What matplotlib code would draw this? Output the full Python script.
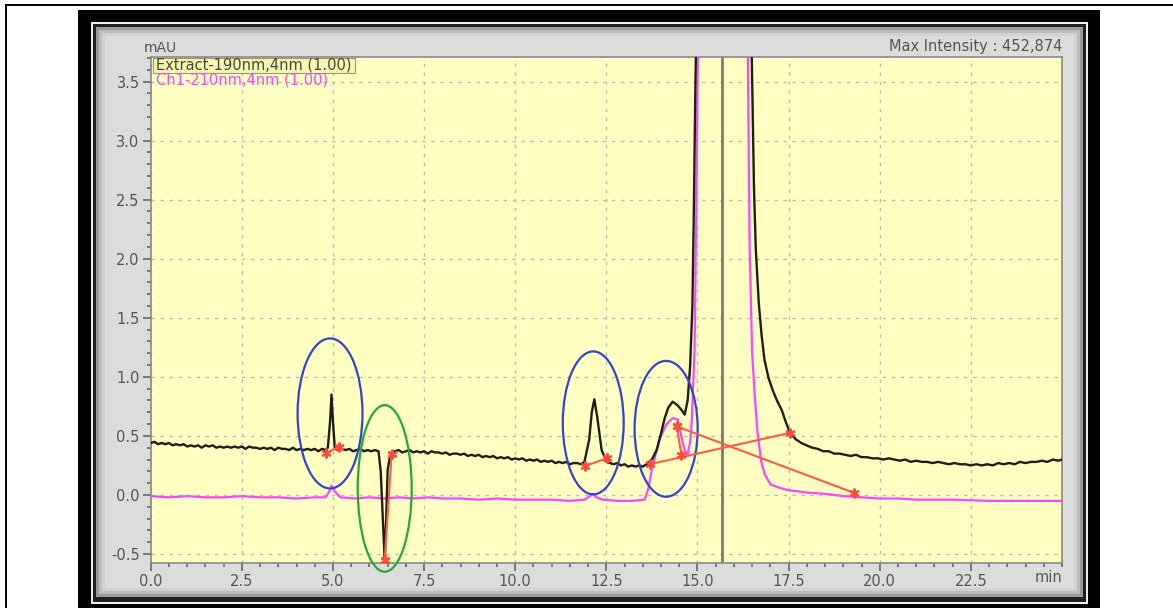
import matplotlib.pyplot as plt
from matplotlib.patches import Rectangle, Ellipse
from matplotlib.ticker import MultipleLocator

# Extract-190nm trace (min, mAU)
black_t = [0.0, 0.1, 0.2, 0.3, 0.4, 0.5, 0.6, 0.7, 0.8, 0.9, 1.0, 1.1, 1.2, 1.3, 1.4, 1.5, 1.6, 1.7,
           1.8, 1.9, 2.0, 2.1, 2.2, 2.3, 2.4, 2.5, 2.6, 2.7, 2.8, 2.9, 3.0, 3.1, 3.2, 3.3, 3.4, 3.5,
           3.6, 3.7, 3.8, 3.9, 4.0, 4.1, 4.2, 4.3, 4.4, 4.5, 4.6, 4.7, 4.8,
           4.86, 4.92, 4.96, 5.0, 5.05,
           5.15, 5.25, 5.35, 5.45, 5.55, 5.65, 5.75, 5.85, 5.95, 6.05, 6.15, 6.25,
           6.31, 6.37, 6.42, 6.46, 6.5, 6.56, 6.62,
           6.7, 6.8, 6.9, 7.0, 7.1, 7.2, 7.3, 7.4, 7.5, 7.6, 7.7, 7.8, 7.9, 8.0, 8.1, 8.2, 8.3,
           8.4, 8.5, 8.6, 8.7, 8.8, 8.9, 9.0, 9.1, 9.2, 9.3, 9.4, 9.5, 9.6, 9.7, 9.8, 9.9, 10.0,
           10.1, 10.2, 10.3, 10.4, 10.5, 10.6, 10.7, 10.8, 10.9, 11.0, 11.1, 11.2, 11.3, 11.4,
           11.5, 11.6, 11.7, 11.8, 11.9,
           12.03, 12.1, 12.17, 12.25, 12.37, 12.51,
           12.6, 12.7, 12.8, 12.9, 13.0, 13.1, 13.2, 13.3, 13.4, 13.5, 13.6,
           13.75, 13.88, 14.0, 14.1, 14.2, 14.32, 14.45, 14.56, 14.65, 14.73, 14.8, 14.86, 14.9,
           14.94, 14.98, 15.1, 16.3, 16.4, 16.49, 16.55, 16.6, 16.68, 16.76, 16.84, 16.95, 17.06,
           17.18, 17.31, 17.42, 17.53,
           17.7, 17.85, 17.99, 18.15, 18.3, 18.45, 18.6, 18.75, 18.9, 19.05, 19.2, 19.35, 19.5,
           19.65, 19.8, 19.95, 20.1, 20.25, 20.4, 20.55, 20.7, 20.85, 21.0, 21.15, 21.3, 21.45,
           21.6, 21.75, 21.9, 22.05, 22.2, 22.35, 22.5, 22.65, 22.8, 22.95, 23.1, 23.25, 23.4,
           23.55, 23.7, 23.85, 24.0, 24.15, 24.3, 24.45, 24.6, 24.75, 24.9, 25.0]
black_v = [0.44, 0.45, 0.43, 0.44, 0.43, 0.44, 0.42, 0.43, 0.42, 0.43, 0.41, 0.42, 0.41, 0.42, 0.40, 0.42, 0.41, 0.42,
           0.40, 0.41, 0.40, 0.41, 0.40, 0.41, 0.40, 0.41, 0.39, 0.41, 0.40, 0.40, 0.39, 0.40, 0.39, 0.40, 0.38, 0.40,
           0.39, 0.39, 0.38, 0.40, 0.38, 0.39, 0.38, 0.39, 0.38, 0.39, 0.37, 0.39, 0.38,
           0.40, 0.62, 0.85, 0.62, 0.40,
           0.38, 0.39, 0.38, 0.39, 0.37, 0.38, 0.39, 0.37, 0.38, 0.37, 0.38, 0.37,
           0.20, -0.21, -0.56, -0.20, 0.21, 0.32, 0.36,
           0.37, 0.38, 0.36, 0.37, 0.38, 0.36, 0.37, 0.36, 0.37, 0.35, 0.37, 0.36, 0.36, 0.35, 0.36, 0.34, 0.35,
           0.35, 0.34, 0.35, 0.33, 0.34, 0.33, 0.34, 0.32, 0.33, 0.32, 0.33, 0.31, 0.32, 0.31, 0.32, 0.30, 0.31,
           0.30, 0.31, 0.29, 0.30, 0.29, 0.30, 0.28, 0.29, 0.28, 0.29, 0.27, 0.28, 0.27, 0.28,
           0.26, 0.27, 0.27, 0.26, 0.28,
           0.47, 0.70, 0.81, 0.66, 0.38, 0.28,
           0.27, 0.26, 0.27, 0.25, 0.26, 0.24, 0.25, 0.24, 0.25, 0.24, 0.26,
           0.30, 0.38, 0.52, 0.65, 0.74, 0.79, 0.76, 0.72, 0.68, 0.80, 1.10, 1.60, 2.40,
           3.40, 4.20, 6.00, 6.00, 4.20, 3.70, 2.60, 2.08, 1.63, 1.35, 1.14, 0.99, 0.89,
           0.80, 0.72, 0.62, 0.53,
           0.47, 0.44, 0.42, 0.40, 0.39, 0.37, 0.37, 0.35, 0.35, 0.34, 0.33, 0.34, 0.32,
           0.32, 0.31, 0.31, 0.30, 0.31, 0.30, 0.29, 0.30, 0.28, 0.29, 0.28, 0.28, 0.27,
           0.28, 0.27, 0.26, 0.27, 0.26, 0.26, 0.25, 0.26, 0.25, 0.26, 0.25, 0.27, 0.26,
           0.27, 0.26, 0.28, 0.27, 0.28, 0.28, 0.29, 0.28, 0.30, 0.29, 0.30]

# Ch1-210nm trace (min, mAU)
pink_t = [0.0, 0.5, 1.0, 1.5, 2.0, 2.5, 3.0, 3.5, 4.0, 4.5, 4.8, 4.9, 4.96, 5.05, 5.2,
          5.6, 6.0, 6.4, 6.8, 7.2, 7.6, 8.0, 8.5, 9.0, 9.5, 10.0, 10.5, 11.0, 11.5, 11.9,
          12.05, 12.13, 12.22, 12.4, 12.8, 13.2, 13.55, 13.65, 13.75, 13.96, 14.15, 14.32,
          14.46, 14.58, 14.65, 14.73, 14.8, 14.84, 14.92, 14.97, 15.02, 15.1, 16.3, 16.38,
          16.43, 16.5, 16.58, 16.65, 16.75, 16.85, 17.0, 17.25, 17.5, 18.0, 18.5, 19.0,
          19.5, 20.0, 20.5, 21.0, 22.0, 23.0, 24.0, 25.0]
pink_v = [-0.01, -0.02, -0.01, -0.02, -0.02, -0.01, -0.02, -0.02, -0.03, -0.02, -0.02, 0.03, 0.08, 0.03, -0.02,
          -0.03, -0.02, -0.03, -0.02, -0.03, -0.02, -0.03, -0.03, -0.04, -0.03, -0.04, -0.04, -0.04, -0.05, -0.04,
          -0.01, 0.01, -0.02, -0.04, -0.05, -0.05, -0.04, 0.05, 0.22, 0.47, 0.60, 0.65,
          0.64, 0.46, 0.38, 0.34, 0.45, 0.61, 1.23, 2.50, 4.00, 6.00, 6.00, 3.80,
          2.10, 1.20, 0.80, 0.52, 0.28, 0.17, 0.09, 0.06, 0.04, 0.02, 0.01, -0.01,
          -0.02, -0.03, -0.03, -0.04, -0.04, -0.05, -0.05, -0.05]

# integration baselines (start, end)
base_segments = [((4.82, 0.353), (5.17, 0.41)),
                 ((6.42, -0.55), (6.61, 0.35)),
                 ((11.91, 0.245), (12.51, 0.31)),
                 ((13.69, 0.26), (17.53, 0.525)),
                 ((14.43, 0.58), (19.30, 0.017)),
                 ((14.43, 0.58), (14.56, 0.34))]

# hand-drawn rings: centre x, centre y, width, height, colour
rings = [(4.92, 0.69, 1.78, 1.27, '#3344cc'),
         (6.42, 0.055, 1.48, 1.41, '#22aa33'),
         (12.14, 0.61, 1.67, 1.21, '#3344cc'),
         (14.14, 0.56, 1.73, 1.15, '#3344cc')]

marker_line = 15.66

W, H = 1173, 608
fig = plt.figure(figsize=(W / 100, H / 100), dpi=100)
fig.patch.set_facecolor('white')


def box(x0, y0, x1, y1, color, z=0):
    fig.add_artist(Rectangle((x0 / W, 1 - y1 / H), (x1 - x0) / W, (y1 - y0) / H,
                             transform=fig.transFigure, facecolor=color,
                             edgecolor='none', zorder=z))


# page lines
box(5, 4, 1173, 6, 'black')
box(5, 4, 7, 620, 'black')

# screenshot frame
box(78, 10, 1100, 620, 'black')
box(91, 22, 1088, 604, '#eeeeee')
box(93, 24, 1086, 602, '#202020')
box(96, 27, 1083, 597, '#9a9a9a')
box(99, 30, 1080, 594, '#bdbdbd')
box(102, 33, 1077, 591, '#d2d2d2')
box(105, 36, 1074, 588, '#dcdcdc')

ax = fig.add_axes([150.7 / W, 1 - 563 / H, 911.3 / W, (563 - 56.7) / H])
ax.set_facecolor('#ffffc2')
ax.set_xlim(0, 25)
ax.set_ylim(-0.576, 3.71)

gray = '#555555'
for s in ax.spines.values():
    s.set_color('#8a8a8a')
    s.set_linewidth(1.2)

ax.xaxis.set_minor_locator(MultipleLocator(0.5))
ax.yaxis.set_minor_locator(MultipleLocator(0.1))
ax.set_xticks([0, 2.5, 5, 7.5, 10, 12.5, 15, 17.5, 20, 22.5])
ax.set_xticklabels(['0.0', '2.5', '5.0', '7.5', '10.0', '12.5', '15.0', '17.5', '20.0', '22.5'])
ax.set_yticks([-0.5, 0, 0.5, 1.0, 1.5, 2.0, 2.5, 3.0, 3.5])
ax.set_yticklabels(['-0.5', '0.0', '0.5', '1.0', '1.5', '2.0', '2.5', '3.0', '3.5'])
ax.tick_params(which='major', direction='out', length=6, width=1.2, color='#666666',
               labelcolor=gray, labelsize=10.5, pad=2)
ax.tick_params(which='minor', direction='out', length=3, width=1.2, color='#666666')
ax.grid(True, which='major', color='#bdbdbd', linestyle=(0, (2.5, 4)), linewidth=1)

ax.axvline(marker_line, color='#7a7a7a', lw=2, zorder=2)

# rings were drawn over the screenshot, so they may run past the axes
for cx, cy, w, h, c in rings:
    ax.add_patch(Ellipse((cx, cy), w, h, fill=False, edgecolor=c, lw=1.6, zorder=5,
                         clip_on=False))

ax.plot(pink_t, pink_v, color='#ff44ff', lw=1.6, zorder=3)
ax.plot(black_t, black_v, color='#1e1e14', lw=1.7, zorder=4)

for (x0, y0), (x1, y1) in base_segments:
    ax.plot([x0, x1], [y0, y1], color='#ff5a4a', lw=1.5, zorder=6)
    ax.plot([x0, x1], [y0, y1], ls='none', marker=(6, 2, 0), ms=7, mew=1.5,
            color='#ff4a3a', zorder=7)

# legend entries
ax.add_patch(Rectangle((0.002, 0.968), 0.222, 0.03, transform=ax.transAxes,
                       facecolor='#f5f5b4', edgecolor='#9a9a70', lw=0.8, zorder=8))
ax.text(0.006, 0.983, 'Extract-190nm,4nm (1.00)', transform=ax.transAxes,
        color='#4a4a30', fontsize=10.5, va='center', ha='left', zorder=9)
ax.text(0.006, 0.953, 'Ch1-210nm,4nm (1.00)', transform=ax.transAxes,
        color='#ff44ff', fontsize=10.5, va='center', ha='left', zorder=9)

fig.text(160 / W, 1 - 48 / H, 'mAU', color=gray, fontsize=10, ha='center', va='center')
fig.text(1062 / W, 1 - 47 / H, 'Max Intensity : 452,874', color=gray, fontsize=10.5,
         ha='right', va='center')
fig.text(1062 / W, 1 - 577 / H, 'min', color=gray, fontsize=10.5, ha='right', va='center')

fig.savefig('out.png', dpi=100)
